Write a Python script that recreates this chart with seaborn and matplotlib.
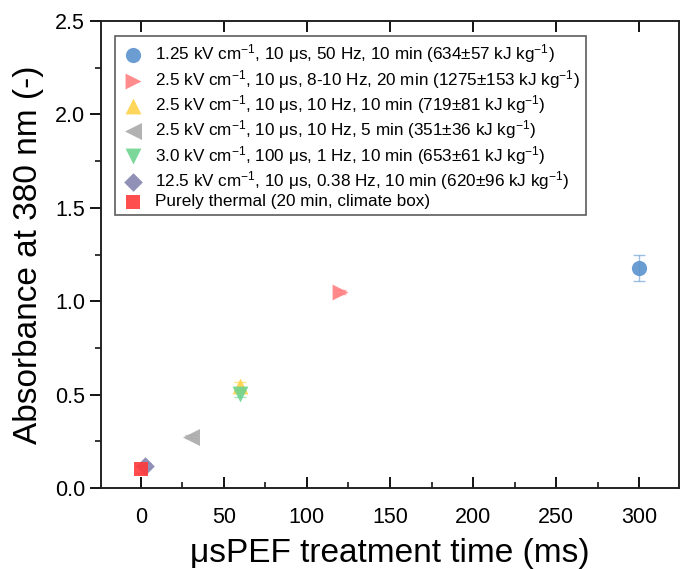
import pandas as pd
import seaborn as sns
from matplotlib import pyplot as plt
from matplotlib.ticker import MultipleLocator

labels = [
    "1.25 kV cm$^{-1}$, 10 μs, 50 Hz, 10 min (634±57 kJ kg$^{-1}$)",
    "2.5 kV cm$^{-1}$, 10 μs, 8-10 Hz, 20 min (1275±153 kJ kg$^{-1}$)",
    "2.5 kV cm$^{-1}$, 10 μs, 10 Hz, 10 min (719±81 kJ kg$^{-1}$)",
    "2.5 kV cm$^{-1}$, 10 μs, 10 Hz, 5 min (351±36 kJ kg$^{-1}$)",
    "3.0 kV cm$^{-1}$, 100 μs, 1 Hz, 10 min (653±61 kJ kg$^{-1}$)",
    "12.5 kV cm$^{-1}$, 10 μs, 0.38 Hz, 10 min (620±96 kJ kg$^{-1}$)",
    "Purely thermal (20 min, climate box)",
]
treatment_time = [300, 120, 60, 30, 60, 2.4, 0]
absorbance = [1.18, 1.05, 0.545, 0.275, 0.505, 0.12, 0.10]
absorbance_err = [0.07, 0.01, 0.02, 0.01, 0.02, 0.015, 0.02]
marker_list = ["o", ">", "^", "<", "v", "D", "s"]
color_list = ["#5b93cf", "#ff7f80", "#ffd24a", "#aaaaaa", "#6ed38f", "#8585b0", "#ff3b3b"]

sns.set_style("white")
plt.rcParams["font.family"] = ["Liberation Sans", "DejaVu Sans"]
plt.rcParams["mathtext.fontset"] = "custom"
plt.rcParams["mathtext.rm"] = "Liberation Sans"
plt.rcParams["mathtext.it"] = "Liberation Sans:italic"
plt.rcParams["text.color"] = "black"
plt.rcParams["axes.labelcolor"] = "black"
plt.rcParams["xtick.color"] = "black"
plt.rcParams["ytick.color"] = "black"

data = pd.DataFrame({"Condition": labels, "time": treatment_time,
                     "abs": absorbance, "err": absorbance_err})

fig = plt.figure(figsize=(6.8, 5.69), dpi=100)
ax = fig.add_axes([0.1485, 0.1424, 0.85, 0.8206])

for i, row in data.iterrows():
    ax.errorbar(row["time"], row["abs"], yerr=row["err"], fmt="none",
                ecolor=color_list[i], elinewidth=1, capsize=4, alpha=0.6, zorder=2)

sizes = [120, 130, 130, 150, 130, 90, 90]
for i, row in data.iterrows():
    sns.scatterplot(data=data.iloc[[i]], x="time", y="abs", marker=marker_list[i],
                    color=color_list[i], s=sizes[i], alpha=0.9, linewidth=0,
                    label=row["Condition"], ax=ax, zorder=3)

ax.set_xlim(-24, 324)
ax.set_ylim(0, 2.5)
ax.xaxis.set_major_locator(MultipleLocator(50))
ax.xaxis.set_minor_locator(MultipleLocator(25))
ax.yaxis.set_major_locator(MultipleLocator(0.5))
ax.yaxis.set_minor_locator(MultipleLocator(0.25))
ax.yaxis.set_major_formatter(lambda v, p: f"{v:.1f}")
ax.tick_params(axis="x", which="major", direction="in", length=8, width=1.3,
               top=True, bottom=True, labelsize=15.5, pad=14)
ax.tick_params(axis="x", which="minor", direction="in", length=4, width=1.1,
               top=False, bottom=True)
ax.tick_params(axis="y", which="major", direction="out", length=8, width=1.3,
               left=True, right=False, labelsize=15.5)
ax.tick_params(axis="y", which="minor", direction="out", length=4, width=1.1,
               left=True, right=False)
for sp in ax.spines.values():
    sp.set_linewidth(1.4)
    sp.set_color("#222222")

ax.set_xlabel("μsPEF treatment time (ms)", fontsize=24, labelpad=7)
ax.set_ylabel("Absorbance at 380 nm (-)", fontsize=24, labelpad=8)

leg = ax.legend(loc="upper left", bbox_to_anchor=(0.024, 0.967), fontsize=12.3,
                frameon=True, fancybox=False, edgecolor="#333333",
                handletextpad=0.6, labelspacing=0.14, borderpad=0.35,
                borderaxespad=0, handlelength=1.4)
leg.get_frame().set_linewidth(1.2)

fig.savefig("out.png", dpi=100)
